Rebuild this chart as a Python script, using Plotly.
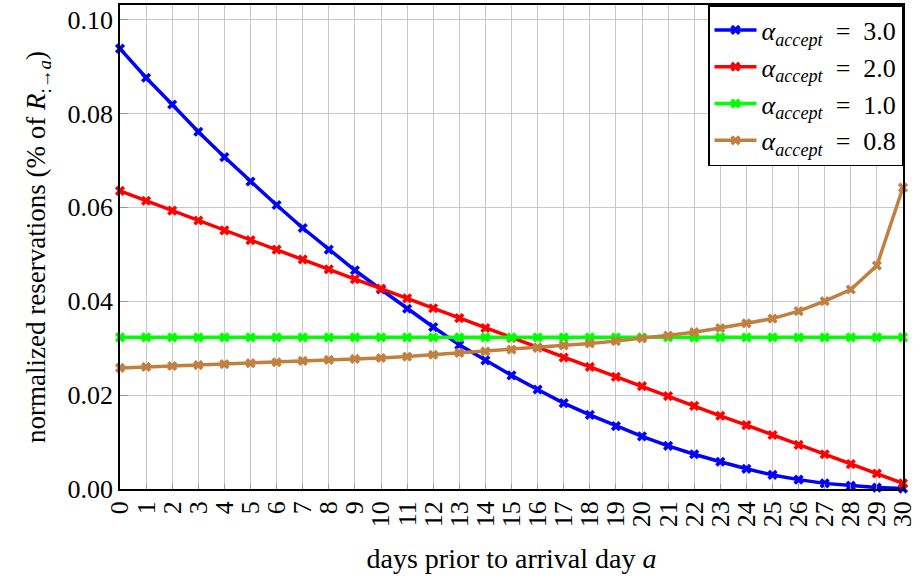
import plotly.graph_objects as go

days = list(range(31))

alpha_3_0 = [0.0938, 0.0876, 0.0819, 0.0761, 0.0707, 0.0655, 0.0605, 0.0556, 0.0510, 0.0466,
             0.0425, 0.0384, 0.0345, 0.0307, 0.0274, 0.0242, 0.0212, 0.0183, 0.0158, 0.0134,
             0.0112, 0.0092, 0.0074, 0.0058, 0.0043, 0.0030, 0.0020, 0.0012, 0.0007, 0.0003,
             0.0001]
alpha_2_0 = [0.0635, 0.0614, 0.0593, 0.0572, 0.0551, 0.0530, 0.0510, 0.0489, 0.0468, 0.0447,
             0.0427, 0.0406, 0.0385, 0.0364, 0.0343, 0.0322, 0.0301, 0.0280, 0.0260, 0.0239,
             0.0219, 0.0198, 0.0177, 0.0156, 0.0136, 0.0115, 0.0094, 0.0074, 0.0053, 0.0033,
             0.0012]
alpha_1_0 = [0.0323] * 31
alpha_0_8 = [0.0258, 0.0260, 0.0262, 0.0264, 0.0266, 0.0268, 0.0270, 0.0273, 0.0275, 0.0277,
             0.0279, 0.0282, 0.0286, 0.0290, 0.0293, 0.0297, 0.0301, 0.0306, 0.0310, 0.0315,
             0.0321, 0.0327, 0.0334, 0.0343, 0.0353, 0.0363, 0.0379, 0.0400, 0.0425, 0.0476,
             0.0642]

series = [
    ("3.0", alpha_3_0, "#0000ff"),
    ("2.0", alpha_2_0, "#ff0000"),
    ("1.0", alpha_1_0, "#00ff00"),
    ("0.8", alpha_0_8, "#bf8040"),
]

y_ticks = [0.00, 0.02, 0.04, 0.06, 0.08, 0.10]
y_tick_text = ["0.00", "0.02", "0.04", "0.06", "0.08", "0.10"]

FONT = "Liberation Serif"

fig = go.Figure()
for label, vals, color in series:
    fig.add_trace(go.Scatter(
        x=days, y=vals, mode="lines+markers",
        name=f"<i>α</i><sub><i>accept</i></sub>\u2002=\u2002{label}",
        line=dict(color=color, width=3.5),
        marker=dict(symbol="x", size=9, color=color, line=dict(width=0)),
        cliponaxis=False,
    ))

fig.update_layout(
    width=920, height=581,
    margin=dict(l=120, r=12, t=3, b=92),
    paper_bgcolor="white", plot_bgcolor="white",
    font=dict(family=FONT, size=26, color="black"),
    showlegend=True,
    legend=dict(
        x=1, y=1, xanchor="right", yanchor="top",
        bgcolor="white", bordercolor="black", borderwidth=1.5,
        font=dict(family=FONT, size=26),
        tracegroupgap=0, itemwidth=42,
    ),
    xaxis=dict(
        range=[0, 30], tickmode="array", tickvals=days, ticktext=[str(d) for d in days],
        tickangle=-90, ticklabeloverflow="allow",
        showgrid=True, gridcolor="#c8c8c8", gridwidth=1,
        showline=True, linecolor="black", linewidth=1.5, mirror=True,
        ticks="inside", ticklen=5, tickcolor="#999999", tickwidth=1, zeroline=False,
        title=dict(text="days prior to arrival day <i>a</i>", standoff=22,
                   font=dict(family=FONT, size=28)),
        tickfont=dict(family=FONT, size=26),
    ),
    yaxis=dict(
        range=[0, 0.1031], tickmode="array", tickvals=y_ticks, ticktext=y_tick_text,
        showgrid=True, gridcolor="#c8c8c8", gridwidth=1,
        showline=True, linecolor="black", linewidth=1.5, mirror=True,
        ticks="inside", ticklen=8, tickcolor="#999999", tickwidth=1, zeroline=False,
        title=dict(text="normalized reservations (% of <i>R</i><sub>:→<i>a</i></sub>)",
                   standoff=14, font=dict(family=FONT, size=27)),
        tickfont=dict(family=FONT, size=26),
    ),
)

fig.write_html("out.html")
